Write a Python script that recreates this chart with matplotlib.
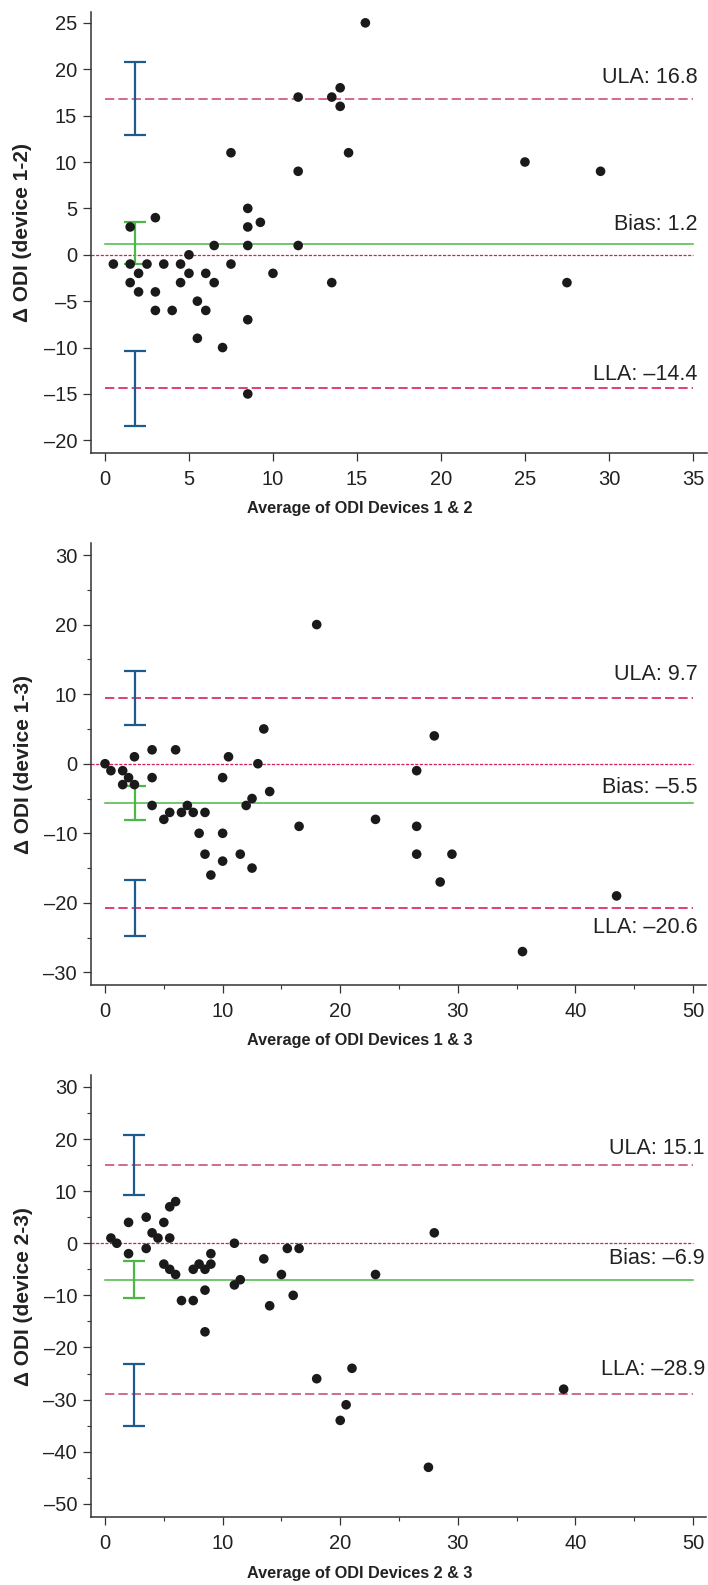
import matplotlib
matplotlib.use("Agg")
import matplotlib.pyplot as plt
from matplotlib.ticker import MultipleLocator

plt.rcParams['font.family'] = ['Liberation Sans', 'DejaVu Sans']

# ---------------- data ----------------
# Panel 1: devices 1 & 2
avg12 = [0.5, 1.5, 1.5, 1.5, 2, 2, 2.5, 3, 3, 3, 3.5, 4, 4.5, 4.5, 5, 5, 5.5, 5.5,
         6, 6, 6.5, 6.5, 7, 7.5, 7.5, 8.5, 8.5, 8.5, 8.5, 8.5, 9.25, 10, 11.5, 11.5,
         11.5, 13.5, 13.5, 14, 14, 14.5, 15.5, 25, 29.5, 27.5]
diff12 = [-1, 3, -1, -3, -2, -4, -1, 4, -4, -6, -1, -6, -1, -3, 0, -2, -5, -9,
          -2, -6, 1, -3, -10, 11, -1, 5, 3, 1, -7, -15, 3.5, -2, 17, 9,
          1, 17, -3, 18, 16, 11, 25, 10, 9, -3]

# Panel 2: devices 1 & 3
avg13 = [0, 0.5, 1.5, 1.5, 2, 2.5, 2.5, 4, 4, 4, 5, 5.5, 6, 6.5, 7, 7.5, 8.5, 8,
         8.5, 9, 10, 10, 10, 10.5, 11.5, 12, 12.5, 12.5, 13, 13.5, 14, 16.5, 18,
         23, 28, 26.5, 26.5, 26.5, 29.5, 28.5, 43.5, 35.5]
diff13 = [0, -1, -1, -3, -2, 1, -3, 2, -2, -6, -8, -7, 2, -7, -6, -7, -7, -10,
          -13, -16, -2, -10, -14, 1, -13, -6, -5, -15, 0, 5, -4, -9, 20,
          -8, 4, -1, -9, -13, -13, -17, -19, -27]

# Panel 3: devices 2 & 3
avg23 = [0.5, 1, 2, 2, 3.5, 3.5, 4, 4.5, 5, 5, 5.5, 5.5, 5.5, 6, 6, 6.5, 7.5, 7.5,
         8, 8.5, 8.5, 8.5, 9, 9, 11, 11, 11.5, 13.5, 14, 15, 15.5, 16, 16.5, 18,
         20, 20.5, 21, 23, 28, 27.5, 39]
diff23 = [1, 0, 4, -2, 5, -1, 2, 1, 4, -4, -5, 7, 1, 8, -6, -11, -11, -5,
          -4, -5, -9, -17, -2, -4, 0, -8, -7, -3, -12, -6, -1, -10, -1, -26,
          -34, -31, -24, -6, 2, -43, -28]

# limits of agreement (line positions) and their printed labels
loa_lines = [[16.8, 1.2, -14.4], [9.4, -5.6, -20.7], [15.0, -7.0, -29.0]]
loa_labels = [["ULA: 16.8", "Bias: 1.2", "LLA: \u201314.4"],
              ["ULA: 9.7", "Bias: \u20135.5", "LLA: \u201320.6"],
              ["ULA: 15.1", "Bias: \u20136.9", "LLA: \u201328.9"]]
# confidence intervals [ULA CI, bias CI, LLA CI] as (low, high)
ci = [[(12.9, 20.8), (-1.0, 3.5), (-18.45, -10.4)],
      [(5.5, 13.3), (-8.05, -3.16), (-24.8, -16.7)],
      [(9.3, 20.85), (-10.46, -3.46), (-35.0, -23.1)]]
ci_x = [1.77, 2.52, 2.5]

ylabels = ["\u0394 ODI (device 1-2)", "\u0394 ODI (device 1-3)", "\u0394 ODI (device 2-3)"]
xlabels = ["Average of ODI Devices 1 & 2", "Average of ODI Devices 1 & 3",
           "Average of ODI Devices 2 & 3"]

# ---------------- layout / style ----------------
rects = [[0.1281, 0.7140, 0.8701, 0.2786],
         [0.1281, 0.3784, 0.8690, 0.2789],
         [0.1281, 0.0427, 0.8690, 0.2791]]
xlims = [(-0.85, 35.82), (-1.22, 51.1), (-1.22, 51.1)]
ylims = [(-21.4, 26.2), (-31.84, 31.7), (-52.6, 32.3)]
xend = [35, 50, 50]
xmaj = [5, 10, 10]
ymaj = [5, 10, 10]
minor = [False, True, True]
# text positions (x right edge, baseline y for ULA, Bias, LLA)
txt_x = [35.28, 50.4, 51.0]
txt_y = [[18.55, 2.66, -13.5], [12.0, -4.2, -24.4], [17.2, -4.0, -25.2]]
dash_cols = [["#cc4f80", "#d42060"], ["#d42060", "#d42060"], ["#c9507f", "#c9507f"]]

BLUE = "#1d5b8c"
GREEN = "#4cb847"
ZERO = "#d0205a"
DOT = "#1a1a1a"
SPINE = "#333333"

fig = plt.figure(figsize=(7.08, 15.85), dpi=100)

data = [(avg12, diff12), (avg13, diff13), (avg23, diff23)]

for i in range(3):
    ax = fig.add_axes(rects[i])
    ax.set_xlim(*xlims[i])
    ax.set_ylim(*ylims[i])
    for s in ["top", "right"]:
        ax.spines[s].set_visible(False)
    for s in ["left", "bottom"]:
        ax.spines[s].set_color(SPINE)
        ax.spines[s].set_linewidth(1.1)

    ula, bias, lla = loa_lines[i]
    # zero line
    ax.plot([xlims[i][0], xend[i]], [0, 0], color=ZERO, lw=0.9,
            dashes=(2.5, 1.2), zorder=2)
    # limits of agreement
    ax.plot([0, xend[i]], [ula, ula], color=dash_cols[i][0], lw=1.2,
            dashes=(5.6, 2.4), zorder=2)
    ax.plot([0, xend[i]], [lla, lla], color=dash_cols[i][1], lw=1.2,
            dashes=(5.6, 2.4), zorder=2)
    ax.plot([0, xend[i]], [bias, bias], color=GREEN, lw=1.1, zorder=2)

    # confidence interval bars
    cols = [BLUE, GREEN, BLUE]
    for (lo, hi), c in zip(ci[i], cols):
        mid = (lo + hi) / 2
        ax.errorbar([ci_x[i]], [mid], yerr=[[mid - lo], [hi - mid]], fmt='none',
                    ecolor=c, elinewidth=1.6, capsize=8.2, capthick=1.6, zorder=3)

    # points
    x, y = data[i]
    ax.scatter(x, y, s=48, color=DOT, edgecolors='none', zorder=4)

    # labels of lines
    for lab, ty in zip(loa_labels[i], txt_y[i]):
        ax.text(txt_x[i], ty, lab, ha='right', va='baseline', fontsize=15.5,
                color="#222222", zorder=5)

    ax.xaxis.set_major_locator(MultipleLocator(xmaj[i]))
    ax.yaxis.set_major_locator(MultipleLocator(ymaj[i]))
    if minor[i]:
        ax.xaxis.set_minor_locator(MultipleLocator(xmaj[i] / 2))
        ax.yaxis.set_minor_locator(MultipleLocator(ymaj[i] / 2))
    ax.tick_params(axis='both', which='major', direction='out', length=5.8,
                   width=0.9, color=SPINE, labelsize=14.5, labelcolor="#222222")
    ax.tick_params(axis='y', which='major', pad=4.0)
    ax.tick_params(axis='x', which='major', pad=6.5)
    ax.tick_params(axis='both', which='minor', direction='out', length=3.2,
                   width=0.8, color=SPINE)
    # limit ticks to the visible data range
    ax.set_xticks([t for t in ax.get_xticks() if 0 <= t <= xend[i]])

    # en-dash minus like the reference
    ax.set_yticklabels([("\u2013" + f"{abs(int(t))}" if t < 0 else f"{int(t)}")
                        for t in ax.get_yticks()])

    ax.set_xlabel(xlabels[i], fontsize=11.7, fontweight='bold', color="#222222",
                  va='center')
    ax.xaxis.set_label_coords(0.437, -0.126)
    ax.set_ylabel(ylabels[i], fontsize=15, fontweight='bold', color="#222222",
                  va='center')
    ax.yaxis.set_label_coords(-0.11, 0.5)

fig.savefig("out.png", dpi=100)
